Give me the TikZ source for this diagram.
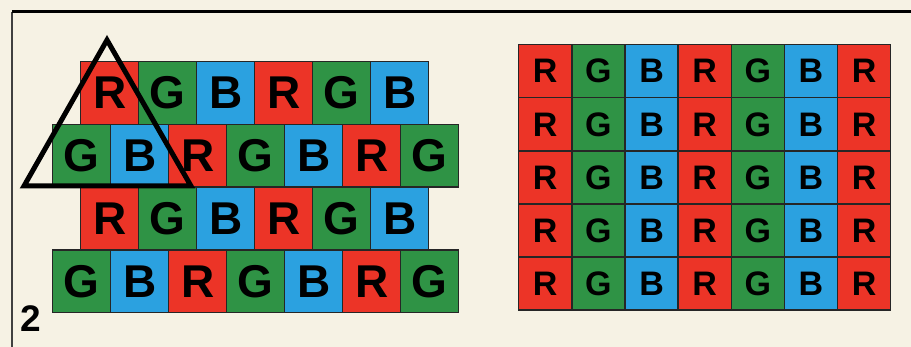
\documentclass[tikz,border=0pt]{standalone}
\usepackage{fontspec}
\setsansfont{Liberation Sans}
\usepackage{xcolor}
\usetikzlibrary{positioning}
\definecolor{paper}{HTML}{F6F2E4}
\definecolor{filtR}{HTML}{EC3427}
\definecolor{filtG}{HTML}{2F9345}
\definecolor{filtB}{HTML}{2BA1E0}

\begin{document}
\begin{tikzpicture}[
  x=1pt, y=-1pt,
  cell/.style={draw=black!85, line width=1.4pt, anchor=north west, inner sep=0pt,
               minimum width=58pt, minimum height=62.75pt,
               font=\sffamily\bfseries\fontsize{46}{46}\selectfont},
  sq/.style={cell, minimum width=53.14pt, minimum height=53.1pt,
             font=\sffamily\bfseries\fontsize{34}{34}\selectfont},
  fR/.style={fill=filtR}, fG/.style={fill=filtG}, fB/.style={fill=filtB},
  tri/.style={line width=5pt, line join=miter},
]
\fill[paper] (0,0) rectangle (911,347);
\useasboundingbox (0,0) rectangle (911,347);
\draw[line width=1.5pt, black!75] (12,347) -- (12,12);
\draw[line width=3pt] (12,11.5) -- (911,11.5);
% staggered mosaic
\foreach \seq [count=\r] in {{R,G,B,R,G,B},{G,B,R,G,B,R,G},{R,G,B,R,G,B},{G,B,R,G,B,R,G}} {
  \pgfmathsetmacro\xo{mod(\r,2)==1 ? 80 : 52}
  \foreach \c [count=\k] in \seq
    \node[cell, f\c] (l-\r-\k) at ({\xo+58*(\k-1)}, {61+62.75*(\r-1)}) {\c};
}
% stripe mosaic
\foreach \r in {1,...,5}
  \foreach \c [count=\k] in {R,G,B,R,G,B,R}
    \node[sq, f\c] (r-\r-\k) at ({518+53.14*(\k-1)}, {44+53.1*(\r-1)}) {\c};
% triad
\coordinate (apex) at (107,40);
\coordinate (tl) at (24,186);
\coordinate (tr) at (191,186);
\draw[tri] (apex) -- (tl) -- (tr) -- cycle;
\node[anchor=south west, inner sep=0pt, font=\sffamily\bfseries\fontsize{37}{37}\selectfont] (num) at (20,332) {2};
\end{tikzpicture}
\end{document}
